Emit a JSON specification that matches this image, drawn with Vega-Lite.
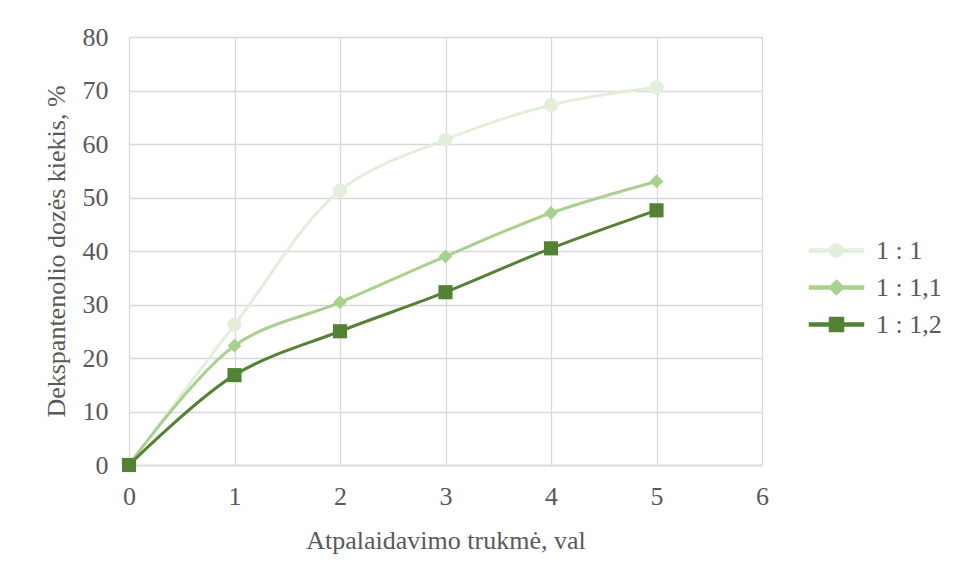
{
  "$schema": "https://vega.github.io/schema/vega-lite/v6.json",
  "autosize": {"type": "none"},
  "width": 633,
  "height": 428,
  "padding": {"left": 129, "top": 37, "right": 194, "bottom": 113},
  "background": "white",
  "config": {
    "font": "Liberation Serif",
    "view": {"stroke": null},
    "axis": {
      "labelFont": "Liberation Serif",
      "titleFont": "Liberation Serif",
      "labelFontSize": 26,
      "titleFontSize": 26,
      "labelColor": "#595959",
      "titleColor": "#595959",
      "titleFontWeight": "normal",
      "gridColor": "#d9d9d9",
      "gridWidth": 1.3,
      "domainColor": "#d9d9d9",
      "domainWidth": 1.3,
      "ticks": false
    },
    "legend": {
      "labelFont": "Liberation Serif",
      "labelFontSize": 26,
      "labelColor": "#595959"
    }
  },
  "data": {
    "values": [
      {"t": 0, "v": 0, "s": "1 : 1"},
      {"t": 1, "v": 26.2, "s": "1 : 1"},
      {"t": 2, "v": 51.3, "s": "1 : 1"},
      {"t": 3, "v": 60.8, "s": "1 : 1"},
      {"t": 4, "v": 67.3, "s": "1 : 1"},
      {"t": 5, "v": 70.6, "s": "1 : 1"},
      {"t": 0, "v": 0, "s": "1 : 1,1"},
      {"t": 1, "v": 22.3, "s": "1 : 1,1"},
      {"t": 2, "v": 30.4, "s": "1 : 1,1"},
      {"t": 3, "v": 39.0, "s": "1 : 1,1"},
      {"t": 4, "v": 47.1, "s": "1 : 1,1"},
      {"t": 5, "v": 53.0, "s": "1 : 1,1"},
      {"t": 0, "v": 0, "s": "1 : 1,2"},
      {"t": 1, "v": 16.8, "s": "1 : 1,2"},
      {"t": 2, "v": 25.0, "s": "1 : 1,2"},
      {"t": 3, "v": 32.3, "s": "1 : 1,2"},
      {"t": 4, "v": 40.5, "s": "1 : 1,2"},
      {"t": 5, "v": 47.6, "s": "1 : 1,2"}
    ]
  },
  "encoding": {
    "x": {
      "field": "t", "type": "quantitative",
      "scale": {"domain": [0, 6], "nice": false},
      "axis": {"values": [0, 1, 2, 3, 4, 5, 6], "title": "Atpalaidavimo trukmė, val", "labelPadding": 18, "titlePadding": 18, "labelFlush": false, "domain": true, "grid": true}
    },
    "y": {
      "field": "v", "type": "quantitative",
      "scale": {"domain": [0, 80], "nice": false},
      "axis": {"values": [0, 10, 20, 30, 40, 50, 60, 70, 80], "title": "Dekspantenolio dozės kiekis, %", "labelPadding": 21, "titlePadding": 13, "labelFlush": false, "domain": false, "grid": true}
    }
  },
  "layer": [
    {
      "mark": {"type": "point", "filled": true, "opacity": 0, "size": 2025},
      "encoding": {
        "color": {
          "field": "s", "type": "nominal",
          "scale": {"domain": ["1 : 1", "1 : 1,1", "1 : 1,2"], "range": ["#e2efda", "#a9d18e", "#548235"]},
          "legend": {
            "title": null,
            "orient": "none",
            "legendX": 684,
            "legendY": 190,
            "padding": 0,
            "rowPadding": -13,
            "symbolSize": 2025,
            "symbolOpacity": 1,
            "labelOffset": 16,
            "labelFont": "Liberation Serif",
            "labelFontSize": 26,
            "labelColor": "#595959"
          }
        },
        "shape": {
          "field": "s", "type": "nominal",
          "scale": {"domain": ["1 : 1", "1 : 1,1", "1 : 1,2"], "range": [
            "M-1.2,-0.067H1.2V0.067H-1.2ZM0.29,0A0.29,0.29,0,1,1,-0.29,0A0.29,0.29,0,1,1,0.29,0Z",
            "M-1.2,-0.067H1.2V0.067H-1.2ZM0,-0.32L0.32,0L0,0.32L-0.32,0Z",
            "M-1.2,-0.067H1.2V0.067H-1.2ZM-0.31,-0.31H0.31V0.31H-0.31Z"
          ]},
          "legend": {
            "title": null,
            "orient": "none",
            "legendX": 684,
            "legendY": 190,
            "padding": 0,
            "rowPadding": -13,
            "symbolSize": 2025,
            "symbolOpacity": 1,
            "labelOffset": 16,
            "labelFont": "Liberation Serif",
            "labelFontSize": 26,
            "labelColor": "#595959"
          }
        }
      }
    },
    {
      "mark": {"type": "line", "interpolate": "catmull-rom", "strokeWidth": 3},
      "encoding": {
        "color": {"field": "s", "type": "nominal", "legend": null}
      }
    },
    {
      "transform": [{"filter": "datum.s === '1 : 1'"}],
      "mark": {"type": "point", "filled": true, "opacity": 1, "size": 200, "shape": "circle"},
      "encoding": {
        "color": {"field": "s", "type": "nominal", "legend": null}
      }
    },
    {
      "transform": [{"filter": "datum.s === '1 : 1,1'"}],
      "mark": {"type": "point", "filled": true, "opacity": 1, "size": 190, "shape": "diamond"},
      "encoding": {
        "color": {"field": "s", "type": "nominal", "legend": null}
      }
    },
    {
      "transform": [{"filter": "datum.s === '1 : 1,2'"}],
      "mark": {"type": "point", "filled": true, "opacity": 1, "size": 200, "shape": "square"},
      "encoding": {
        "color": {"field": "s", "type": "nominal", "legend": null}
      }
    }
  ]
}
